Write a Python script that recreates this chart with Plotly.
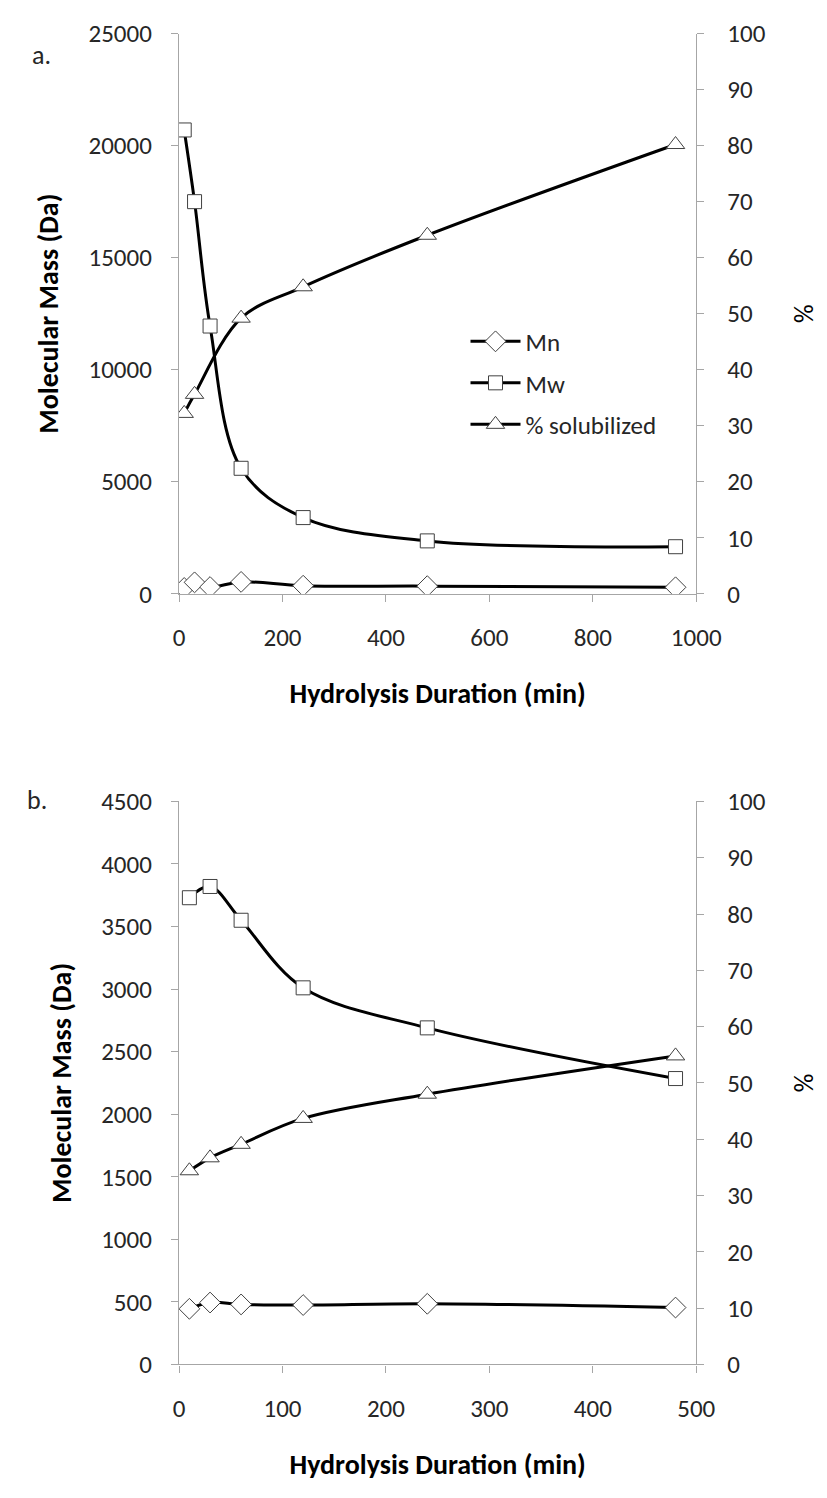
import plotly.graph_objects as go

# ---------------- data ----------------
# Panel a
a_time = [10, 30, 60, 120, 240, 480, 960]
a_mn = [260, 510, 300, 530, 360, 340, 290]
a_mw = [20700, 17500, 11950, 5600, 3400, 2360, 2100]
a_sol_time = [10, 30, 120, 240, 480, 960]
a_sol = [32.2, 35.6, 49.2, 54.8, 64.0, 80.2]

# Panel b
b_time = [10, 30, 60, 120, 240, 480]
b_mn = [445, 495, 480, 475, 485, 455]
b_mw = [3730, 3820, 3550, 3010, 2690, 2285]
b_sol = [34.4, 36.7, 39.1, 43.7, 48.0, 54.8]

a_xticks = [0, 200, 400, 600, 800, 1000]
a_yticks = [0, 5000, 10000, 15000, 20000, 25000]
b_xticks = [0, 100, 200, 300, 400, 500]
b_yticks = [0, 500, 1000, 1500, 2000, 2500, 3000, 3500, 4000, 4500]
pct_ticks = [0, 10, 20, 30, 40, 50, 60, 70, 80, 90, 100]

FONT = "Carlito, Lato, 'Open Sans', sans-serif"
AXIS_GRAY = "#a6a6a6"
TXT = "#262626"
MLINE = dict(color="#404040", width=1)

fig = go.Figure()

def line_trace(x, y, symbol, size, name, xa, ya, show):
    return go.Scatter(
        x=x, y=y, mode="lines+markers", name=name, legendgroup=name,
        xaxis=xa, yaxis=ya, showlegend=show,
        line=dict(color="black", width=3, shape="spline", smoothing=1.0),
        marker=dict(symbol=symbol, size=size, color="white", line=MLINE),
    )

# panel a
fig.add_trace(line_trace(a_time, a_mn, "diamond", 16, "Mn", "x", "y", True))
fig.add_trace(line_trace(a_time, a_mw, "square", 14, "Mw", "x", "y", True))
fig.add_trace(line_trace(a_sol_time, a_sol, "triangle-up", 16, "% solubilized", "x", "y2", True))
# panel b
fig.add_trace(line_trace(b_time, b_mn, "diamond", 16, "Mn", "x2", "y3", False))
fig.add_trace(line_trace(b_time, b_mw, "square", 14, "Mw", "x2", "y3", False))
fig.add_trace(line_trace(b_time, b_sol, "triangle-up", 16, "% solubilized", "x2", "y4", False))

W, H = 827, 1498
xdom = [180 / W, 718 / W]
a_dom = [1 - 591 / H, 1 - 19 / H]
b_dom = [1 - 1378 / H, 1 - 803 / H]

tickfont = dict(family=FONT, size=25, color=TXT)
titlefont_b = dict(family=FONT, size=28, color="black", weight="bold")

def xaxis(dom_anchor, ticks, rng):
    return dict(
        domain=xdom, anchor=dom_anchor, range=rng,
        tickvals=ticks, ticktext=[str(t) for t in ticks],
        showline=True, linecolor=AXIS_GRAY, linewidth=1.3,
        ticks="outside", ticklen=7, tickcolor=AXIS_GRAY, tickwidth=1.3,
        showgrid=False, zeroline=False, tickfont=tickfont,
        ticklabelstandoff=14,
        title=dict(text="Hydrolysis Duration (min)", font=titlefont_b, standoff=31),
    )

def yleft(dom, anchor, ticks, rng):
    return dict(
        domain=dom, anchor=anchor, range=rng,
        tickvals=ticks, ticktext=[str(t) for t in ticks],
        showline=True, linecolor=AXIS_GRAY, linewidth=1.3,
        ticks="outside", ticklen=7, tickcolor=AXIS_GRAY, tickwidth=1.3,
        showgrid=False, zeroline=False, tickfont=tickfont,
        ticklabelstandoff=14,
        title=dict(text="Molecular Mass (Da)", font=titlefont_b, standoff=21),
    )

def yright(overlay, anchor, rng):
    return dict(
        overlaying=overlay, side="right", anchor=anchor, range=rng,
        tickvals=pct_ticks, ticktext=[str(t) for t in pct_ticks],
        showline=True, linecolor=AXIS_GRAY, linewidth=1.3,
        ticks="outside", ticklen=7, tickcolor=AXIS_GRAY, tickwidth=1.3,
        showgrid=False, zeroline=False, tickfont=tickfont,
        ticklabelstandoff=18,
        title=dict(text="%", font=dict(family=FONT, size=26, color="black"), standoff=30),
    )

fig.update_layout(
    width=W, height=H,
    margin=dict(l=0, r=0, t=0, b=0),
    paper_bgcolor="white", plot_bgcolor="white",
    font=dict(family=FONT, color=TXT),
    xaxis=xaxis("y", a_xticks, [0, 1000]),
    yaxis=yleft(a_dom, "x", a_yticks, [0, 25000]),
    yaxis2=yright("y", "x", [0, 100]),
    xaxis2=xaxis("y3", b_xticks, [0, 500]),
    yaxis3=yleft(b_dom, "x2", b_yticks, [0, 4500]),
    yaxis4=yright("y3", "x2", [0, 100]),
    legend=dict(
        x=478 / W, y=1 - 310 / H, xanchor="left", yanchor="top",
        bgcolor="rgba(0,0,0,0)", font=dict(family=FONT, size=25, color=TXT),
        itemwidth=50, tracegroupgap=6,
    ),
    annotations=[
        dict(text="a.", x=25 / W, y=1 - 22 / H, xref="paper", yref="paper",
             showarrow=False, font=dict(family=FONT, size=26, color=TXT)),
        dict(text="b.", x=20 / W, y=1 - 802 / H, xref="paper", yref="paper",
             showarrow=False, font=dict(family=FONT, size=26, color=TXT)),
    ],
)

fig.write_html("out.html")
